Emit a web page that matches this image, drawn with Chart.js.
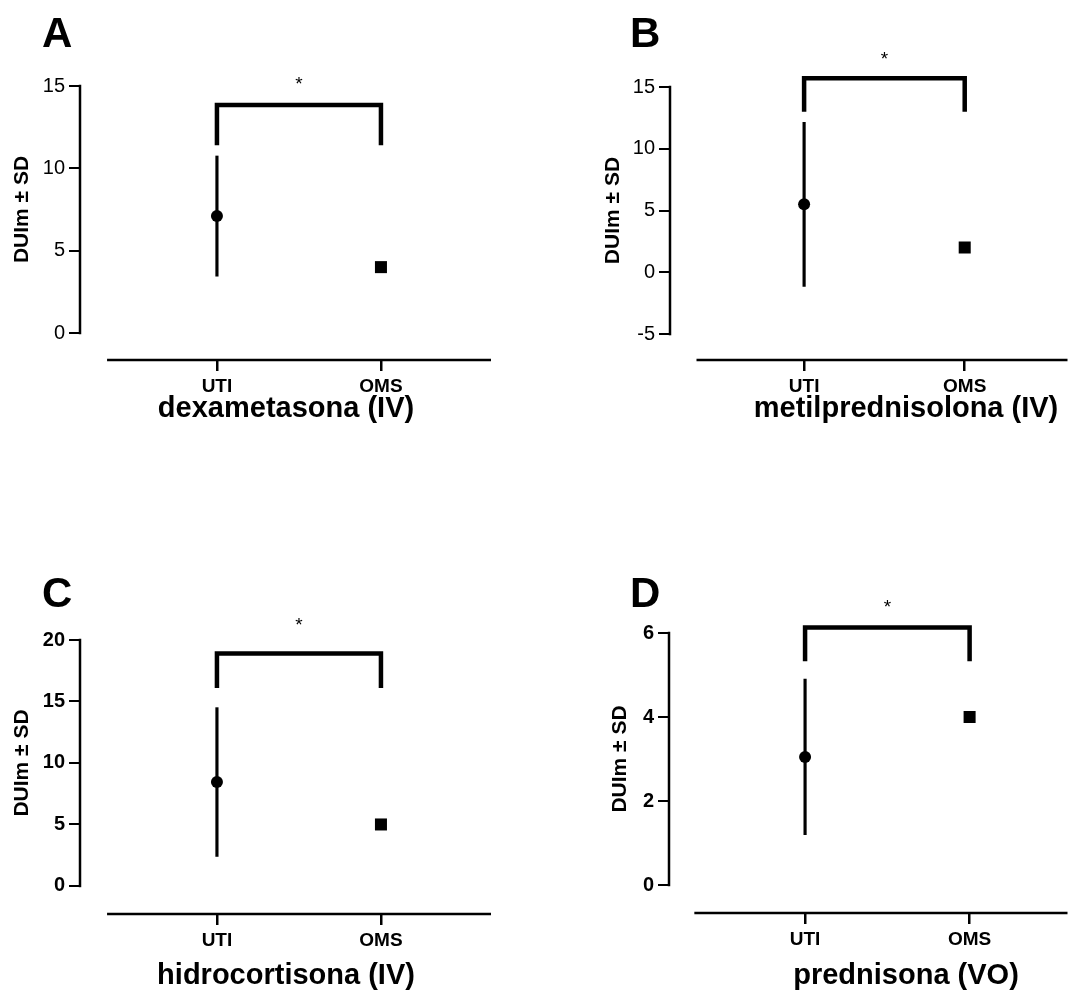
<!DOCTYPE html>
<html>
<head>
<meta charset="utf-8">
<script src="https://cdn.jsdelivr.net/npm/chart.js@4.4.1/dist/chart.umd.min.js"></script>
<style>
  body { margin: 0; background: #fff; width: 1076px; height: 994px; position: relative; overflow: hidden; }
  canvas { position: absolute; }
</style>
</head>
<body>
<canvas id="pA" width="538" height="553" style="left:0;top:0"></canvas>
<canvas id="pB" width="538" height="553" style="left:538px;top:0"></canvas>
<canvas id="pC" width="538" height="441" style="left:0;top:553px"></canvas>
<canvas id="pD" width="538" height="441" style="left:538px;top:553px"></canvas>
<script>
// data
const groups = ["UTI", "OMS"];
const drugs = ["dexametasona (IV)", "metilprednisolona (IV)", "hidrocortisona (IV)", "prednisona (VO)"];
const letters = ["A", "B", "C", "D"];
const utiMean = [7.1, 5.5, 8.45, 3.05];
const utiSD = [3.65, 6.65, 6.05, 1.85];
const omsValue = [4, 2, 5, 4];
const bracketTop = [13.85, 15.7, 18.9, 6.13];
const bracketLeg = [11.4, 13.0, 16.1, 5.33];
const starLevel = [15.4, 17.65, 21.6, 6.75];
const yTicks = [[0, 5, 10, 15], [-5, 0, 5, 10, 15], [0, 5, 10, 15, 20], [0, 2, 4, 6]];
const yLabel = "DUIm ± SD";

// layout of each panel (canvas pixels)
const layout = [
  { id: "pA", left: 80, right: 491, top: 86, bottom: 360, xMin: 0.165, xMax: 2.671, axisStart: 0.33, yMin: -1.64, yMax: 15, tickWeight: "normal", letterX: 42, letterY: 47, yTitleX: 22, xTitleX: 286, xTitleY: 409 },
  { id: "pB", left: 132, right: 538, top: 87, bottom: 360, xMin: 0.165, xMax: 2.64, axisStart: 0.33, yMin: -7.1, yMax: 15, tickWeight: "normal", letterX: 92, letterY: 47, yTitleX: 75, xTitleX: 368, xTitleY: 409 },
  { id: "pC", left: 80, right: 491, top: 87, bottom: 361, xMin: 0.165, xMax: 2.671, axisStart: 0.33, yMin: -2.28, yMax: 20, tickWeight: "bold", letterX: 42, letterY: 54, yTitleX: 22, xTitleX: 286, xTitleY: 423 },
  { id: "pD", left: 131, right: 538, top: 80, bottom: 360, xMin: 0.173, xMax: 2.595, axisStart: 0.327, yMin: -0.667, yMax: 6, tickWeight: "bold", letterX: 92, letterY: 54, yTitleX: 82, xTitleX: 368, xTitleY: 423 }
];

const FONT = '"Liberation Sans", Arial, sans-serif';

// axis lines (Prism style, offset) and the extra texts
const decor = {
  id: "decor",
  beforeDatasetsDraw(chart, args, opts) {
    const { ctx, chartArea, scales: { x, y } } = chart;
    const L = layout[opts.idx];
    const t = yTicks[opts.idx];
    ctx.save();
    ctx.strokeStyle = "#000";
    ctx.lineWidth = 2.5;
    ctx.lineCap = "square";
    ctx.beginPath();
    ctx.moveTo(chartArea.left, y.getPixelForValue(t[0]));
    ctx.lineTo(chartArea.left, y.getPixelForValue(t[t.length - 1]));
    ctx.stroke();
    ctx.lineCap = "butt";
    ctx.beginPath();
    ctx.moveTo(x.getPixelForValue(L.axisStart), chartArea.bottom);
    ctx.lineTo(chartArea.right, chartArea.bottom);
    ctx.stroke();
    ctx.restore();
  },
  afterDraw(chart, args, opts) {
    const { ctx, scales: { x, y } } = chart;
    const i = opts.idx;
    const L = layout[i];
    const t = yTicks[i];
    ctx.save();
    ctx.fillStyle = "#000";

    ctx.font = "bold 42px " + FONT;
    ctx.textAlign = "left";
    ctx.textBaseline = "alphabetic";
    ctx.fillText(letters[i], L.letterX, L.letterY);

    ctx.font = "19px " + FONT;
    ctx.textAlign = "center";
    ctx.fillText("*", x.getPixelForValue(1.5), y.getPixelForValue(starLevel[i]) + 11);

    ctx.font = "bold 29px " + FONT;
    ctx.textBaseline = "middle";
    ctx.fillText(drugs[i], L.xTitleX, L.xTitleY);

    const yc = (y.getPixelForValue(t[0]) + y.getPixelForValue(t[t.length - 1])) / 2;
    ctx.translate(L.yTitleX, yc);
    ctx.rotate(-Math.PI / 2);
    ctx.font = "bold 21px " + FONT;
    ctx.fillText(yLabel, 0, 0);
    ctx.restore();
  }
};

function makePanel(i) {
  const L = layout[i];
  const canvas = document.getElementById(L.id);
  const H = canvas.height;
  const W = canvas.width;
  return new Chart(canvas, {
    type: "bar",
    data: {
      datasets: [
        {
          type: "bar",
          data: [{ x: 1, y: [utiMean[i] - utiSD[i], utiMean[i] + utiSD[i]] }],
          backgroundColor: "#000",
          barThickness: 2.5,
          order: 4
        },
        {
          type: "line",
          data: [
            { x: 1, y: bracketLeg[i] },
            { x: 1, y: bracketTop[i] },
            { x: 2, y: bracketTop[i] },
            { x: 2, y: bracketLeg[i] }
          ],
          borderColor: "#000",
          borderWidth: 4.5,
          borderJoinStyle: "miter",
          borderCapStyle: "butt",
          pointRadius: 0,
          tension: 0,
          fill: false,
          clip: false,
          order: 3
        },
        {
          type: "scatter",
          data: [{ x: 1, y: utiMean[i] }],
          pointStyle: "circle",
          pointRadius: 6,
          backgroundColor: "#000",
          borderWidth: 0,
          order: 1
        },
        {
          type: "scatter",
          data: [{ x: 2, y: omsValue[i] }],
          pointStyle: "rect",
          pointRadius: 8.5,
          backgroundColor: "#000",
          borderWidth: 0,
          order: 2
        }
      ]
    },
    options: {
      responsive: false,
      animation: false,
      events: [],
      layout: { padding: { left: 0, right: W - L.right, top: L.top, bottom: 0 } },
      plugins: {
        legend: { display: false },
        tooltip: { enabled: false },
        decor: { idx: i }
      },
      scales: {
        x: {
          type: "linear",
          min: L.xMin,
          max: L.xMax,
          offset: false,
          afterBuildTicks: s => { s.ticks = [{ value: 1 }, { value: 2 }]; },
          afterFit: s => { s.height = H - L.bottom; },
          ticks: {
            autoSkip: false,
            maxRotation: 0,
            padding: 4,
            color: "#000",
            font: { family: FONT, size: 19, weight: "bold" },
            callback: (v, idx) => groups[idx]
          },
          grid: { offset: false, drawOnChartArea: false, drawTicks: true, tickLength: 11, color: "#000", lineWidth: 2.5 },
          border: { display: false }
        },
        y: {
          type: "linear",
          min: L.yMin,
          max: L.yMax,
          afterBuildTicks: s => { s.ticks = yTicks[i].map(v => ({ value: v })); },
          afterFit: s => { s.width = L.left; },
          ticks: {
            autoSkip: false,
            padding: 4,
            color: "#000",
            font: { family: FONT, size: 20, weight: L.tickWeight }
          },
          grid: { drawOnChartArea: false, drawTicks: true, tickLength: 11, color: "#000", lineWidth: 2 },
          border: { display: false }
        }
      }
    },
    plugins: [decor]
  });
}

layout.forEach((L, i) => makePanel(i));
</script>
</body>
</html>
